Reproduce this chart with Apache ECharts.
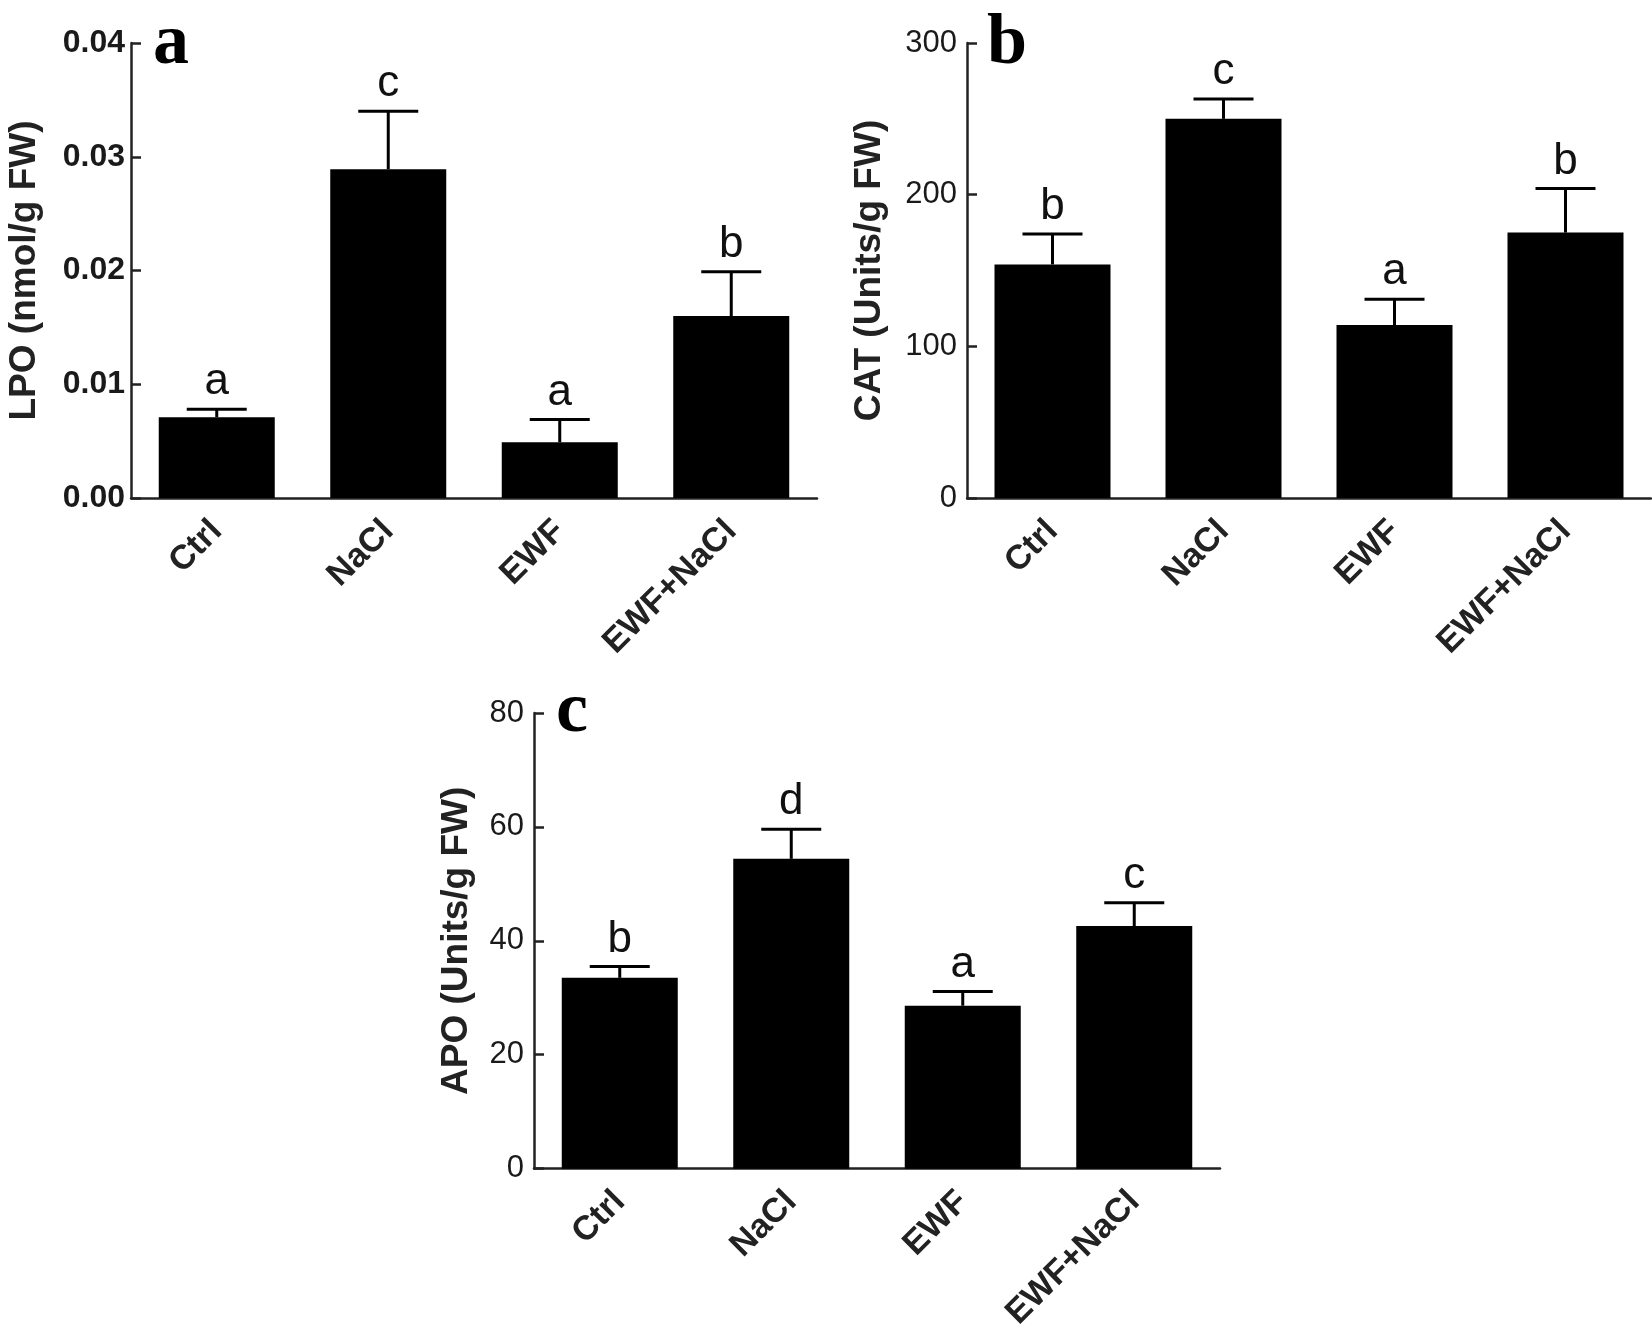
<!DOCTYPE html>
<html>
<head>
<meta charset="utf-8">
<script src="https://cdn.jsdelivr.net/npm/echarts@6/dist/echarts.min.js"></script>
<style>
html,body{margin:0;padding:0;background:#fff;}
#chart{width:1652px;height:1333px;}
</style>
</head>
<body>
<div id="chart"></div>
<script>
// ---- data ----
const categories = ['Ctrl', 'NaCl', 'EWF', 'EWF+NaCl'];

const lpoMean  = [0.0071, 0.0289, 0.0049, 0.0160];
const lpoUpper = [0.0078, 0.0340, 0.0069, 0.0199];
const lpoLetters = ['a', 'c', 'a', 'b'];
const lpoTicks = ['0.00', '0.01', '0.02', '0.03', '0.04'];

const catMean  = [154, 250, 114, 175];
const catUpper = [174, 263, 131, 204];
const catLetters = ['b', 'c', 'a', 'b'];
const catTicks = ['0', '100', '200', '300'];

const apoMean  = [33.5, 54.4, 28.6, 42.6];
const apoUpper = [35.5, 59.6, 31.1, 46.7];
const apoLetters = ['b', 'd', 'a', 'c'];
const apoTicks = ['0', '20', '40', '60', '80'];

const panelLetters = ['a', 'b', 'c'];
const yTitles = ['LPO (nmol/g FW)', 'CAT (Units/g FW)', 'APO (Units/g FW)'];

// ---- helpers ----
const SANS = 'Liberation Sans, Arial, sans-serif';

function errRenderer(letters) {
  return function (params, api) {
    const x = api.value(0), m = api.value(1), u = api.value(2);
    const p0 = api.coord([x, m]);
    const p1 = api.coord([x, u]);
    const half = 30;
    return {
      type: 'group',
      children: [
        {type: 'line', shape: {x1: p0[0], y1: p0[1], x2: p1[0], y2: p1[1]}, style: {stroke: '#000', lineWidth: 3}},
        {type: 'line', shape: {x1: p1[0] - half, y1: p1[1], x2: p1[0] + half, y2: p1[1]}, style: {stroke: '#000', lineWidth: 3}},
        {type: 'text', x: p1[0], y: p1[1] - 5,
          style: {text: letters[params.dataIndex], font: '44px ' + SANS, fill: '#111', align: 'center', verticalAlign: 'bottom'}}
      ]
    };
  };
}

function yAxisCfg(idx, max, interval, ticks, bold, nameGap, labelSize, labelMargin) {
  return {
    gridIndex: idx, type: 'value', min: 0, max: max, interval: interval,
    name: yTitles[idx], nameLocation: 'middle', nameGap: nameGap,
    nameTextStyle: {fontFamily: SANS, fontWeight: 'bold', fontSize: 37, color: '#222'},
    axisLine: {show: true, lineStyle: {color: '#222', width: 2.5}},
    axisTick: {show: true, inside: true, length: 10, lineStyle: {color: '#222', width: 2.5}},
    splitLine: {show: false},
    axisLabel: {
      margin: labelMargin, fontFamily: SANS, fontSize: labelSize, fontWeight: bold ? 'bold' : 'normal', color: '#1a1a1a',
      formatter: function (v) { return ticks[Math.round(v / interval)]; }
    }
  };
}

function xAxisCfg(idx) {
  return {
    gridIndex: idx, type: 'category', data: categories,
    axisLine: {show: true, lineStyle: {color: '#222', width: 2.5}},
    axisTick: {show: false},
    axisLabel: {rotate: 45, margin: 28, fontFamily: SANS, fontSize: 34, fontWeight: 'bold', color: '#222', interval: 0}
  };
}

function errData(mean, upper) {
  return mean.map((m, i) => [i, m, upper[i]]);
}

const option = {
  animation: false,
  backgroundColor: '#fff',
  grid: [
    {left: 131, top: 43, width: 686, height: 455},
    {left: 967, top: 43, width: 684, height: 455},
    {left: 534, top: 713, width: 686, height: 459}
  ],
  xAxis: [xAxisCfg(0), xAxisCfg(1), xAxisCfg(2)],
  yAxis: [
    yAxisCfg(0, 0.04, 0.01, lpoTicks, true, 88, 32, 6),
    yAxisCfg(1, 300, 100, catTicks, false, 79, 31, 10),
    yAxisCfg(2, 80, 20, apoTicks, false, 59, 31, 10)
  ],
  series: [
    {type: 'bar', xAxisIndex: 0, yAxisIndex: 0, data: lpoMean, barWidth: 116, itemStyle: {color: '#000'}},
    {type: 'custom', xAxisIndex: 0, yAxisIndex: 0, data: errData(lpoMean, lpoUpper), renderItem: errRenderer(lpoLetters), z: 5},
    {type: 'bar', xAxisIndex: 1, yAxisIndex: 1, data: catMean, barWidth: 116, itemStyle: {color: '#000'}},
    {type: 'custom', xAxisIndex: 1, yAxisIndex: 1, data: errData(catMean, catUpper), renderItem: errRenderer(catLetters), z: 5},
    {type: 'bar', xAxisIndex: 2, yAxisIndex: 2, data: apoMean, barWidth: 116, itemStyle: {color: '#000'}},
    {type: 'custom', xAxisIndex: 2, yAxisIndex: 2, data: errData(apoMean, apoUpper), renderItem: errRenderer(apoLetters), z: 5}
  ],
  graphic: [
    {type: 'text', left: 153, top: 8, style: {text: panelLetters[0], font: 'bold 72px Liberation Serif, Times New Roman, serif', fill: '#000'}},
    {type: 'text', left: 987, top: 8, style: {text: panelLetters[1], font: 'bold 72px Liberation Serif, Times New Roman, serif', fill: '#000'}},
    {type: 'text', left: 556, top: 676, style: {text: panelLetters[2], font: 'bold 72px Liberation Serif, Times New Roman, serif', fill: '#000'}}
  ]
};

const chart = echarts.init(document.getElementById('chart'), null, {renderer: 'canvas'});
chart.setOption(option);
</script>
</body>
</html>
